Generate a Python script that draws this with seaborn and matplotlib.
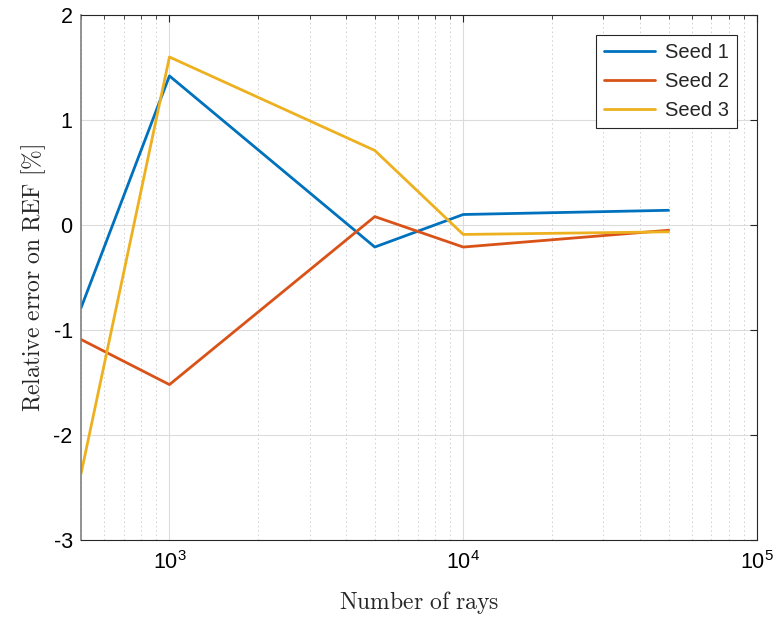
import numpy as np
import pandas as pd
import matplotlib
matplotlib.use("Agg")
import matplotlib.pyplot as plt
import seaborn as sns

# data
rays = [500, 1000, 5000, 10000, 50000]
seed1 = [-0.79, 1.42, -0.21, 0.10, 0.14]
seed2 = [-1.09, -1.52, 0.08, -0.21, -0.05]
seed3 = [-2.37, 1.60, 0.71, -0.09, -0.065]

df = pd.DataFrame({
    "rays": rays * 3,
    "err": seed1 + seed2 + seed3,
    "seed": ["Seed 1"] * 5 + ["Seed 2"] * 5 + ["Seed 3"] * 5,
})

sns.set_style("white")
plt.rcParams["font.family"] = ["Liberation Sans", "DejaVu Sans"]
plt.rcParams["mathtext.fontset"] = "cm"

fig = plt.figure(figsize=(7.77, 6.18), dpi=100)
ax = fig.add_axes([81 / 777, 78 / 618, (757 - 81) / 777, (540 - 15) / 618])

palette = {"Seed 1": "#0072BD", "Seed 2": "#D95319", "Seed 3": "#EDB120"}
sns.lineplot(data=df, x="rays", y="err", hue="seed", palette=palette,
             linewidth=2.0, ax=ax)

ax.set_xscale("log")
ax.set_xlim(500, 1e5)
ax.set_ylim(-3, 2)
ax.set_yticks([-3, -2, -1, 0, 1, 2])
ax.set_yticklabels(["-3", "-2", "-1", "0", "1", "2"])

ax.grid(True, which="major", color="#dcdcdc", linewidth=0.8, linestyle="-")
ax.grid(True, which="minor", axis="x", color="#cfcfcf", linewidth=0.7, linestyle=(0, (1.5, 3)))
ax.set_axisbelow(True)

ax.tick_params(axis="both", which="both", direction="in", labelsize=15.5,
               top=True, right=True, colors="#262626", labelcolor="black")
ax.tick_params(axis="both", which="major", length=5, width=0.8)
ax.tick_params(axis="x", which="minor", length=3, width=0.6)
ax.tick_params(axis="x", pad=8)
ax.tick_params(axis="y", pad=6)
for s in ax.spines.values():
    s.set_color("#262626")
    s.set_linewidth(0.8)
ax.spines["left"].set_color("#808080")
ax.spines["left"].set_linewidth(1.2)

ax.set_xlabel(r"$\mathrm{Number\ of\ rays}$", fontsize=17, labelpad=11)
ax.set_ylabel(r"$\mathrm{Relative\ error\ on\ REF\ [\%]}$", fontsize=17, labelpad=4)

leg = ax.legend(loc="upper right", fontsize=14.5, frameon=True, fancybox=False,
                edgecolor="#262626", framealpha=1, borderaxespad=1.0,
                handlelength=2.5, handletextpad=0.5, labelspacing=0.5,
                borderpad=0.4)
leg.get_frame().set_linewidth(0.8)

fig.savefig("out.png", dpi=100)
